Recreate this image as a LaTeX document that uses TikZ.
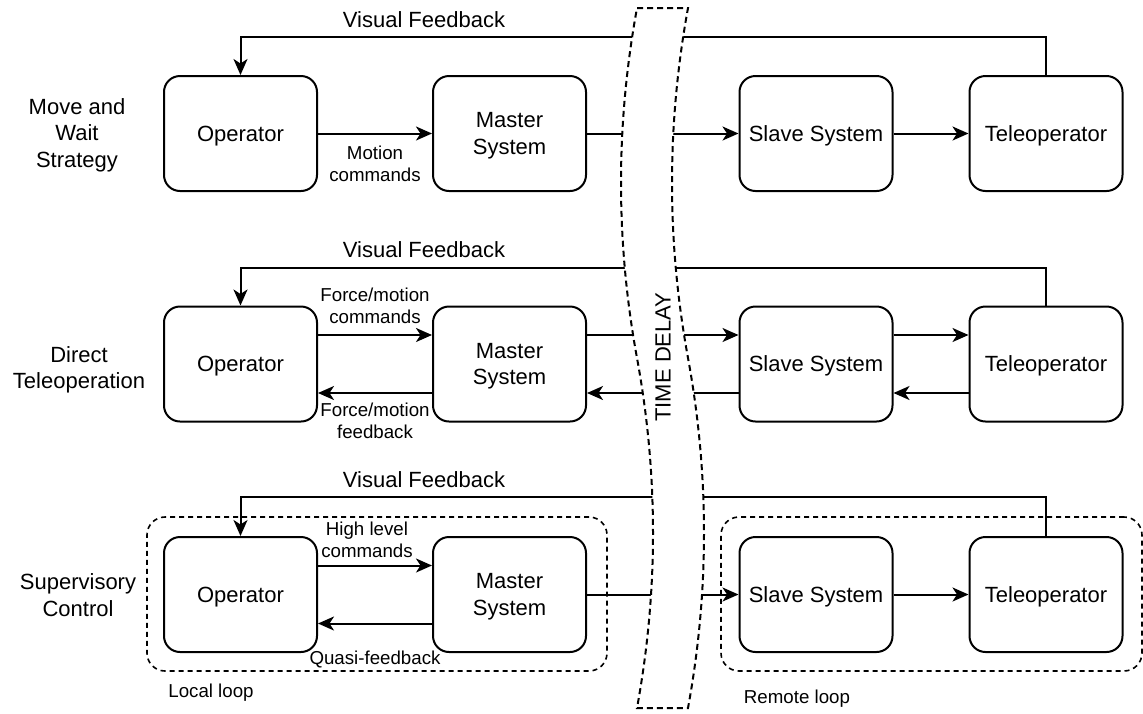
\documentclass[tikz,border=0pt]{standalone}
\usepackage{fontspec}
\setmainfont{Liberation Sans}
\usetikzlibrary{arrows.meta}
\begin{document}
\begin{tikzpicture}[x=1pt,y=-1pt,
  blk/.style={draw,line width=2pt,rounded corners=16pt,minimum width=153pt,
    minimum height=115pt,align=center,inner sep=0pt,text depth=0pt,
    font=\fontsize{22}{26.5}\selectfont},
  conn/.style={line width=2pt},
  arr/.style={conn,-{Stealth[length=16pt,width=14pt,inset=4.5pt]}},
  biglbl/.style={align=center,inner sep=0pt,font=\fontsize{22}{26.5}\selectfont},
  smalllbl/.style={align=center,inner sep=0pt,font=\fontsize{18.7}{22}\selectfont},
  loopbox/.style={draw,line width=1.6pt,dash pattern=on 5pt off 4pt,
    rounded corners=18pt,inner sep=0pt},
  band/.style={draw,fill=white,line width=2pt,dash pattern=on 6pt off 4pt},
]
\useasboundingbox (0,0) rectangle (1143,713);

% dashed groups of the supervisory scheme
\node[loopbox,minimum width=460pt,minimum height=154pt] (local) at (377,594) {};
\node[loopbox,minimum width=421pt,minimum height=154pt] (remote) at (931.5,594) {};

% row 1: move and wait
\node[blk] (op1) at (240.5,133.5) {Operator};
\node[blk] (ms1) at (509.5,133.5) {Master\\System};
\node[blk] (sl1) at (816,133.5) {Slave System};
\node[blk] (tp1) at (1046,133.5) {Teleoperator};

% row 2: direct teleoperation
\node[blk] (op2) at (240.5,364) {Operator};
\node[blk] (ms2) at (509.5,364) {Master\\System};
\node[blk] (sl2) at (816,364) {Slave System};
\node[blk] (tp2) at (1046,364) {Teleoperator};

% row 3: supervisory control
\node[blk] (op3) at (240.5,594.5) {Operator};
\node[blk] (ms3) at (509.5,594.5) {Master\\System};
\node[blk] (sl3) at (816,594.5) {Slave System};
\node[blk] (tp3) at (1046,594.5) {Teleoperator};

% connectors, row 1
\draw[arr] (op1) -- (ms1);
\draw[arr] (ms1) -- (sl1);
\draw[arr] (sl1) -- (tp1);
\draw[arr] (tp1.north) -- ++(0,-38) -| (op1.north);

% connectors, row 2
\draw[arr] ([yshift=29pt]op2.east) -- ([yshift=29pt]ms2.west);
\draw[arr] ([yshift=-29pt]ms2.west) -- ([yshift=-29pt]op2.east);
\draw[arr] ([yshift=29pt]ms2.east) -- ([yshift=29pt]sl2.west);
\draw[arr] ([yshift=-29pt]sl2.west) -- ([yshift=-29pt]ms2.east);
\draw[arr] ([yshift=29pt]sl2.east) -- ([yshift=29pt]tp2.west);
\draw[arr] ([yshift=-29pt]tp2.west) -- ([yshift=-29pt]sl2.east);
\draw[arr] (tp2.north) -- ++(0,-38) -| (op2.north);

% connectors, row 3
\draw[arr] ([yshift=29pt]op3.east) -- ([yshift=29pt]ms3.west);
\draw[arr] ([yshift=-29pt]ms3.west) -- ([yshift=-29pt]op3.east);
\draw[arr] (ms3) -- (sl3);
\draw[arr] (sl3) -- (tp3);
\draw[arr] (tp3.north) -- ++(0,-39) -| (op3.north);

% time delay band
\draw[band] (637,8) -- (688,8)
  .. controls (666.67,124.67) and (666.67,241.33) .. (688,358)
  .. controls (709.33,474.67) and (709.33,591.33) .. (688,708)
  -- (637,708)
  .. controls (658.33,591.33) and (658.33,474.67) .. (637,358)
  .. controls (615.67,241.33) and (615.67,124.67) .. (637,8) -- cycle;
\node[biglbl,rotate=90] (td) at (663,357) {TIME DELAY};

% strategy names
\node[biglbl] (s1) at (77,135) {Move and\\Wait\\Strategy};
\node[biglbl] (s2) at (79,370) {Direct\\Teleoperation};
\node[biglbl] (s3) at (78,595) {Supervisory\\Control};

% feedback labels
\node[biglbl] (vf1) at (424,20) {Visual Feedback};
\node[biglbl] (vf2) at (424,250) {Visual Feedback};
\node[biglbl] (vf3) at (424,480) {Visual Feedback};

% signal labels
\node[smalllbl] (l1) at (375,164) {Motion\\commands};
\node[smalllbl] (l2) at (375,306) {Force/motion\\commands};
\node[smalllbl] (l3) at (375,421) {Force/motion\\feedback};
\node[smalllbl] (l4) at (367,540) {High level\\commands};
\node[smalllbl,anchor=base] (l5) at (375,664) {Quasi-feedback};
\node[smalllbl,anchor=base] (l6) at (211,697) {Local loop};
\node[smalllbl,anchor=base] (l7) at (797,703) {Remote loop};
\end{tikzpicture}
\end{document}
